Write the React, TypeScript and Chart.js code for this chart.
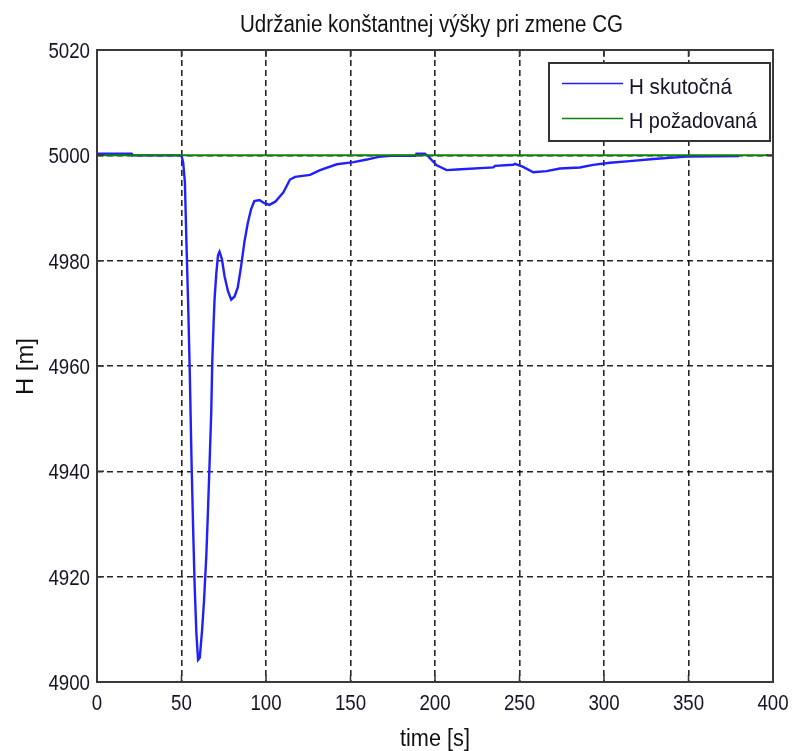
import React, { useEffect, useRef } from "react";
import { Chart, registerables } from "chart.js";

Chart.register(...registerables);

// ---- data ----
const titleText = "Udržanie konštantnej výšky pri zmene CG";
const xLabel = "time [s]";
const yLabel = "H [m]";
const seriesNames = ["H skutočná", "H požadovaná"];

const actualTime = [
  0, 20.5, 21, 50, 51, 52, 52.9, 53.9, 54.9, 55.9, 56.9, 57.8, 58.8, 59.8, 60.8,
  62.2, 63.3, 64.7, 65.7, 66.7, 67.6, 68.2, 69.0, 69.6, 70.6, 71.6, 72.5, 73.9,
  75.5, 77.5, 79.4, 81.4, 83.3, 85.3, 87.3, 89.2, 91.2, 93.1, 96.1, 99, 102,
  105.5, 110.3, 114.2, 117.2, 126.1, 132, 141.9, 151.8, 159.7, 166.6, 173.5,
  188.5, 189, 194, 196, 201, 206.9, 212.8, 234.5, 235.5, 246.3, 247.3, 252.2,
  258.1, 266, 273.9, 285.7, 293.6, 303.5, 315.3, 329.1, 348.8, 380,
];
const actualH = [
  5000.3, 5000.3, 5000, 5000, 4998.6, 4994.9, 4983.7, 4972.2, 4958.7, 4942.4,
  4928.9, 4918.1, 4909.3, 4904.2, 4904.6, 4909.9, 4915.3, 4924.1, 4932.9,
  4942.4, 4951.2, 4960.7, 4968.2, 4972.9, 4977.6, 4981, 4981.7, 4980.3, 4977,
  4974.2, 4972.6, 4973.2, 4974.9, 4979, 4983.7, 4987.1, 4989.8, 4991.3, 4991.5,
  4990.9, 4990.6, 4991.2, 4993, 4995.4, 4995.9, 4996.3, 4997.2, 4998.3, 4998.7,
  4999.2, 4999.7, 4999.9, 4999.9, 5000.3, 5000.3, 4999.8, 4998.1, 4997.2,
  4997.3, 4997.7, 4998, 4998.2, 4998.4, 4997.8, 4996.8, 4997, 4997.5, 4997.7,
  4998.2, 4998.6, 4998.9, 4999.3, 4999.75, 4999.85,
];
const requiredTime = [0, 400];
const requiredH = [5000, 5000];

const xTicks = [0, 50, 100, 150, 200, 250, 300, 350, 400];
const yTicks = [4900, 4920, 4940, 4960, 4980, 5000, 5020];

const FONT = '"Liberation Sans", Arial, sans-serif';

function drawFit(
  ctx: CanvasRenderingContext2D,
  text: string,
  x: number,
  y: number,
  size: number,
  width: number | null,
  align: CanvasTextAlign,
  rotate = false,
  sxFixed = 0.85
) {
  ctx.font = `${size}px ${FONT}`;
  const w = ctx.measureText(text).width;
  const sx = width ? width / w : sxFixed;
  ctx.save();
  ctx.translate(x, y);
  if (rotate) ctx.rotate(-Math.PI / 2);
  ctx.scale(sx, 1);
  ctx.textAlign = align;
  ctx.textBaseline = "alphabetic";
  ctx.fillText(text, 0, 0);
  ctx.restore();
}

const decorPlugin = {
  id: "decor",
  beforeDraw(chart: any) {
    const ctx = chart.ctx;
    ctx.save();
    ctx.fillStyle = "#ffffff";
    ctx.fillRect(0, 0, chart.width, chart.height);
    ctx.restore();
  },
  afterDraw(chart: any) {
    const ctx: CanvasRenderingContext2D = chart.ctx;
    const a = chart.chartArea;
    const xs = chart.scales.x;
    const ys = chart.scales.y;
    ctx.save();

    // inward tick marks
    ctx.strokeStyle = "#333";
    ctx.lineWidth = 1.5;
    ctx.setLineDash([]);
    const tl = 7;
    xTicks.forEach((v) => {
      const px = xs.getPixelForValue(v);
      ctx.beginPath();
      ctx.moveTo(px, a.bottom);
      ctx.lineTo(px, a.bottom - tl);
      ctx.moveTo(px, a.top);
      ctx.lineTo(px, a.top + tl);
      ctx.stroke();
    });
    yTicks.forEach((v) => {
      const py = ys.getPixelForValue(v);
      ctx.beginPath();
      ctx.moveTo(a.left, py);
      ctx.lineTo(a.left + tl, py);
      ctx.moveTo(a.right, py);
      ctx.lineTo(a.right - tl, py);
      ctx.stroke();
    });

    // axes box
    ctx.strokeStyle = "#3a3a3a";
    ctx.lineWidth = 2;
    ctx.strokeRect(a.left, a.top, a.right - a.left, a.bottom - a.top);

    // tick labels
    ctx.fillStyle = "#141428";
    xTicks.forEach((v) => {
      const px = xs.getPixelForValue(v);
      drawFit(ctx, String(v), px, 710, 22, null, "center");
    });
    yTicks.forEach((v) => {
      const py = ys.getPixelForValue(v);
      drawFit(ctx, String(v), 90, py + 8, 22, null, "right");
    });

    // title & axis labels
    ctx.fillStyle = "#111";
    drawFit(ctx, titleText, 431.5, 32, 23, 383, "center");
    drawFit(ctx, xLabel, 435, 746, 23, 70, "center");
    drawFit(ctx, yLabel, 33, 366.5, 24, 57, "center", true);

    // legend
    const lx0 = 549, ly0 = 63, lx1 = 770, ly1 = 141;
    ctx.fillStyle = "#ffffff";
    ctx.fillRect(lx0, ly0, lx1 - lx0, ly1 - ly0);
    ctx.strokeStyle = "#333";
    ctx.lineWidth = 2;
    ctx.strokeRect(lx0, ly0, lx1 - lx0, ly1 - ly0);
    const rows = [
      { y: 83.5, base: 93.5, w: 103 },
      { y: 118.5, base: 127.5, w: 128 },
    ];
    chart.data.datasets.forEach((ds: any, i: number) => {
      const r = rows[i];
      ctx.strokeStyle = ds.borderColor;
      ctx.lineWidth = 1.5;
      ctx.beginPath();
      ctx.moveTo(562, r.y);
      ctx.lineTo(623, r.y);
      ctx.stroke();
      ctx.fillStyle = "#141428";
      drawFit(ctx, ds.label, 629, r.base, 22, r.w, "left");
    });

    ctx.restore();
  },
};

export default function App() {
  const ref = useRef<HTMLCanvasElement | null>(null);

  useEffect(() => {
    if (!ref.current) return;
    const actualPts = actualTime.map((t, i) => ({ x: t, y: actualH[i] }));
    const reqPts = requiredTime.map((t, i) => ({ x: t, y: requiredH[i] }));

    const chart = new Chart(ref.current, {
      type: "line",
      data: {
        datasets: [
          {
            label: seriesNames[0],
            data: actualPts,
            borderColor: "#2020ff",
            borderWidth: 2.4,
            pointRadius: 0,
            tension: 0,
            fill: false,
            order: 2,
          },
          {
            label: seriesNames[1],
            data: reqPts,
            borderColor: "#0c800c",
            borderWidth: 2,
            pointRadius: 0,
            tension: 0,
            fill: false,
            order: 1,
          },
        ],
      },
      plugins: [decorPlugin],
      options: {
        responsive: false,
        animation: false,
        devicePixelRatio: 1,
        layout: { padding: { left: 0, top: 50, right: 25, bottom: 0 } },
        plugins: {
          legend: { display: false },
          title: { display: false },
          tooltip: { enabled: false },
        },
        scales: {
          x: {
            type: "linear",
            min: 0,
            max: 400,
            ticks: { stepSize: 50, display: false },
            grid: {
              color: "rgba(0,0,0,0.85)",
              lineWidth: 1.6,
              drawTicks: false,
            },
            border: { display: false, dash: [6, 4] },
            afterFit: (s: any) => {
              s.height = 69;
            },
          },
          y: {
            type: "linear",
            min: 4900,
            max: 5020,
            ticks: { stepSize: 20, display: false },
            grid: {
              color: "rgba(0,0,0,0.85)",
              lineWidth: 1.6,
              drawTicks: false,
            },
            border: { display: false, dash: [6, 4] },
            afterFit: (s: any) => {
              s.width = 97;
            },
          },
        },
      },
    });
    return () => chart.destroy();
  }, []);

  return (
    <div style={{ position: "absolute", left: 0, top: 0, width: 798, height: 751, background: "#fff" }}>
      <canvas ref={ref} width={798} height={751} style={{ display: "block" }} />
    </div>
  );
}
